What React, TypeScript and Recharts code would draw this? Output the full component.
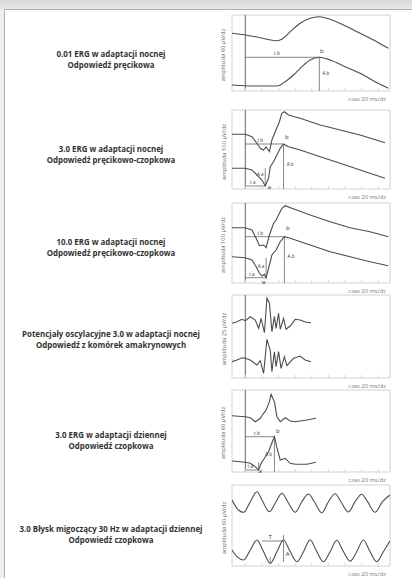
import { LineChart, Line, XAxis, YAxis, ReferenceArea, ReferenceLine, ReferenceDot } from 'recharts';

// time ticks (ms) and amplitude ticks shared by every panel
const timeTicks = [0, 20, 40, 60, 80, 100, 120, 140, 160];
const ampTicks = [12, 24, 36, 48, 60, 72];

// 0.01 ERG, dark adapted
const rodUpperT = [-16, 0, 18, 38, 44, 54, 66, 78, 88, 98, 118, 138, 158, 172];
const rodUpperV = [57.7, 56, 53.3, 50.3, 51.7, 59.3, 67.7, 72.7, 74.3, 72.7, 66, 57.7, 49.3, 42.7];
const rodLowerT = [-16, 0, 18, 38, 48, 58, 68, 78, 89, 102, 120, 138, 156, 172];
const rodLowerV = [6, 5.3, 5, 5, 9.3, 16, 24.3, 31, 33.7, 31, 24.3, 17.7, 9.3, 2.7];

// 3.0 ERG, dark adapted
const mixedUpperT = [-16, 0, 8, 14, 18, 22, 25, 29, 32, 36, 41, 44, 47, 52, 58, 66, 90, 114, 138, 168];
const mixedUpperV = [54.7, 54.7, 52.3, 45.7, 40.7, 39, 42, 37.3, 49, 57.3, 67.3, 75.7, 77.3, 74, 72.5, 70.7, 64, 59, 54, 46.3];
const mixedLowerT = [-16, 0, 8, 14, 20, 24, 28, 30, 34, 38, 42, 46, 52, 66, 90, 114, 138, 168];
const mixedLowerV = [20.7, 20.7, 19, 14, 9, 3, 11, 22.3, 27.3, 34, 40.7, 45, 42.3, 39, 32.3, 25.7, 19, 10.7];

// 10.0 ERG, dark adapted
const strongUpperT = [-16, 0, 8, 13, 17, 22, 25, 29, 34, 37, 41, 44, 48, 56, 78, 102, 126, 150, 172];
const strongUpperV = [55.3, 55.3, 53, 44.7, 37.3, 38, 35.3, 48, 59.7, 63, 69.7, 74.7, 77.3, 74.7, 68, 61.3, 55.3, 51.3, 46.3];
const strongLowerT = [-16, 0, 8, 13, 17, 20, 23, 25, 29, 32, 37, 42, 47, 54, 78, 102, 126, 150, 172];
const strongLowerV = [26.3, 25.3, 23, 16.3, 9.7, 7, 8.7, 5.3, 18, 28, 33, 41.3, 46.3, 44.7, 38, 31.3, 26.3, 21.3, 17.3];

// oscillatory potentials
const oscUpperT = [-16, -10, -4, 0, 6, 12, 16, 19, 23, 26, 29, 32, 35, 37, 40, 42, 46, 49, 54, 60, 66, 72, 79];
const oscUpperV = [54.7, 56.3, 58.7, 57.3, 61.3, 58, 49.7, 59.7, 45.3, 79.7, 75, 46.3, 61.3, 49.7, 64.7, 48.7, 59.7, 48.7, 52, 58.7, 58, 56, 55.3];
const oscLowerT = [-16, -10, -4, 0, 6, 11, 14, 18, 22, 26, 30, 32, 35, 37, 40, 43, 47, 50, 58, 66, 72, 79];
const oscLowerV = [16.3, 18, 20.3, 19.7, 18, 14.7, 13, 17.3, 4.7, 38.7, 28, 6.3, 26.3, 11.3, 26.3, 9.7, 21.3, 12.3, 19.7, 22, 18, 16.3];

// 3.0 ERG, light adapted
const coneUpperT = [-16, 0, 6, 12, 18, 22, 25, 29, 31, 35, 38, 42, 48, 54, 60, 66, 74, 85];
const coneUpperV = [56.3, 55.3, 54.3, 50.3, 53.7, 58.7, 62, 70.3, 77.7, 70.3, 55.3, 50.3, 54.3, 51, 50.3, 51, 52, 53.7];
const coneLowerT = [-16, 0, 6, 12, 16, 19, 23, 28, 31, 35, 38, 42, 48, 54, 60, 66, 74, 85];
const coneLowerV = [11, 9.7, 8.7, 5.3, 2, 8.7, 13.7, 20.3, 27, 35.3, 24.3, 12, 13.7, 8.7, 7.7, 7.7, 7.7, 9.7];

// 30 Hz flicker
const flickerUpperT = [-16, -10, -2, 6, 14, 20, 29, 37, 44, 51, 60, 68, 76, 83, 92, 100, 108, 115, 124, 132, 140, 147, 156, 165, 174];
const flickerUpperV = [66, 57.7, 53.7, 64.3, 74.3, 66, 54.3, 64.3, 72.7, 64.3, 53.7, 64.3, 72, 64.3, 53.2, 64.3, 72.3, 64.3, 54, 64.3, 71.8, 64.3, 53.7, 64.3, 71];
const flickerLowerT = [-16, -10, -2, 6, 14, 21, 30, 38, 46, 53, 62, 70, 78, 85, 94, 102, 110, 117, 126, 134, 142, 149, 158, 166, 174];
const flickerLowerV = [16, 9.3, 6, 16, 26, 16, 2.7, 14.3, 26, 16, 4.3, 14.3, 26.3, 16, 4.3, 14.3, 25.7, 16, 4.8, 14.3, 26, 16, 4.3, 14.3, 25];

// measurement marks: [t1, v1, t2, v2] and labels: [text, t, v]
const rodLines = [[0, 33.7, 89, 33.7], [89, 33.7, 89, 0]];
const rodNotes: [string, number, number][] = [['t b', 38, 38], ['b', 92, 40], ['A b', 97, 18]];
const mixedLines = [[0, 45, 46, 45], [46, 45, 46, 0], [0, 3, 24, 3], [24, 3, 24, 20.7]];
const mixedNotes: [string, number, number][] = [['t b', 18, 49], ['b', 50, 52], ['A b', 54, 25], ['t a', 9, 7.5], ['A a', 18, 15], ['a', 29, 2]];
const strongLines = [[0, 46.3, 47, 46.3], [47, 46.3, 47, 0], [0, 5.3, 25, 5.3], [25, 5.3, 25, 25.3]];
const strongNotes: [string, number, number][] = [['t b', 18, 50], ['b', 51, 55], ['A b', 55, 27], ['t a', 8, 9], ['A a', 19, 17], ['a', 22, 1.5]];
const coneLines = [[0, 35.3, 35, 35.3], [35, 35.3, 35, 0], [0, 2, 16, 2], [16, 2, 16, 9.7]];
const coneNotes: [string, number, number][] = [['t b', 14, 39.5], ['b', 39, 41], ['A b', 28, 18], ['t a', 6, 6], ['a', 18, 0.8]];
const flickerLines = [[20, 25, 46, 25], [46, 4, 46, 31], [30, 2.7, 30, 9]];
const flickerNotes: [string, number, number][] = [['T', 30, 29.5], ['A', 51, 12]];

const toPoints = (t: number[], v: number[]) => t.map((time, i) => ({ t: time, v: v[i] }));

interface PanelProps {
    top: number;
    height: number;
    yLabel: string;
    upper: { t: number; v: number }[];
    lower: { t: number; v: number }[];
    curve: 'linear' | 'monotone';
    stimulus: boolean;
    lines: number[][];
    notes: [string, number, number][];
}

// small annotation text centred on the reference point
const noteLabel = (text: string) => (props: any) => {
    const vb = props.viewBox || {};
    return (
        <text x={vb.x + (vb.width || 0) / 2} y={vb.y + (vb.height || 0) / 2} textAnchor="middle" dominantBaseline="central"
            fontSize={text.length === 1 ? 6 : 4.6} fill="#333">
            {text}
        </text>
    );
};

function ErgPanel({ top, height, yLabel, upper, lower, curve, stimulus, lines, notes }: PanelProps) {
    return (
        <div style={{ position: 'absolute', left: 212, top: top - 2 }}>
            <div style={{
                position: 'absolute', left: 11 - height / 2, top: 4 + height / 2 - 4, width: height, height: 8,
                lineHeight: '8px', transform: 'rotate(-90deg)', textAlign: 'center', fontSize: 5.8, color: '#666', whiteSpace: 'nowrap'
            }}>
                {yLabel}
            </div>
            <LineChart width={182} height={height + 16} margin={{ top: 2, right: 4, bottom: 0, left: 20 }}>
                <XAxis
                    type="number"
                    dataKey="t"
                    domain={[-16, 174]}
                    ticks={timeTicks}
                    allowDataOverflow
                    height={14}
                    axisLine={false}
                    tickSize={-3}
                    tickLine={{ stroke: '#d6d6d6' }}
                    tickFormatter={() => ''}
                    label={{ value: 'czas 20 ms/dz', position: 'insideBottomRight', offset: 4, fontSize: 5.8, fill: '#777' }}
                />
                <YAxis
                    type="number"
                    dataKey="v"
                    domain={[0, height]}
                    ticks={ampTicks}
                    allowDataOverflow
                    width={0}
                    axisLine={false}
                    tickSize={-3}
                    tickLine={{ stroke: '#d6d6d6' }}
                    tickFormatter={() => ''}
                />
                <ReferenceArea x1={-16} x2={174} y1={0} y2={height} fill="none" stroke="#d2d2d2" ifOverflow="visible" />
                {stimulus && <ReferenceLine x={0} stroke="#555" strokeWidth={0.9} />}
                {lines.map((s, i) => (
                    <ReferenceLine key={'s' + i} segment={[{ x: s[0], y: s[1] }, { x: s[2], y: s[3] }]} stroke="#555" strokeWidth={0.7} ifOverflow="visible" />
                ))}
                {notes.map((n, i) => (
                    <ReferenceDot key={'n' + i} x={n[1]} y={n[2]} r={0} fill="none" stroke="none" ifOverflow="visible" label={noteLabel(n[0])} />
                ))}
                <Line data={upper} dataKey="v" type={curve} stroke="#4d4d4d" strokeWidth={1.1} dot={false} isAnimationActive={false} />
                <Line data={lower} dataKey="v" type={curve} stroke="#4d4d4d" strokeWidth={1.1} dot={false} isAnimationActive={false} />
            </LineChart>
        </div>
    );
}

function Title({ y, lines }: { y: number; lines: string[] }) {
    return (
        <div style={{
            position: 'absolute', left: 6, top: y - 5.5, width: 210, textAlign: 'center',
            fontSize: 7.9, fontWeight: 700, lineHeight: '11px', color: '#333'
        }}>
            {lines.map((l) => <div key={l}>{l}</div>)}
        </div>
    );
}

export default function App() {
    return (
        <div style={{ position: 'absolute', left: 0, top: 0, width: 412, height: 578, overflow: 'hidden', background: '#efefef', fontFamily: '"Open Sans", sans-serif' }}>
            <div style={{ position: 'absolute', left: 0, top: 0, width: 412, height: 9, background: 'linear-gradient(#d9d9d9, #e6e6e6)' }} />
            <div style={{ position: 'absolute', left: 4, top: 9, width: 408, height: 569, background: '#fff', borderTop: '1px solid #b0b0b0', borderLeft: '1px solid #b0b0b0' }} />

            <Title y={54} lines={['0.01 ERG w adaptacji nocnej', 'Odpowiedź pręcikowa']} />
            <Title y={149} lines={['3.0 ERG w adaptacji nocnej', 'Odpowiedź pręcikowo-czopkowa']} />
            <Title y={242} lines={['10.0 ERG w adaptacji nocnej', 'Odpowiedź pręcikowo-czopkowa']} />
            <Title y={334} lines={['Potencjały oscylacyjne 3.0 w adaptacji nocnej', 'Odpowiedź z komórek amakrynowych']} />
            <Title y={435} lines={['3.0 ERG w adaptacji dziennej', 'Odpowiedź czopkowa']} />
            <Title y={529} lines={['3.0 Błysk migoczący 30 Hz w adaptacji dziennej', 'Odpowiedź czopkowa']} />

            <ErgPanel top={15} height={76} yLabel="amplituda 60 µV/dz" curve="monotone" stimulus
                upper={toPoints(rodUpperT, rodUpperV)} lower={toPoints(rodLowerT, rodLowerV)} lines={rodLines} notes={rodNotes} />
            <ErgPanel top={110} height={79} yLabel="amplituda 100 µV/dz" curve="linear" stimulus
                upper={toPoints(mixedUpperT, mixedUpperV)} lower={toPoints(mixedLowerT, mixedLowerV)} lines={mixedLines} notes={mixedNotes} />
            <ErgPanel top={203} height={80} yLabel="amplituda 100 µV/dz" curve="linear" stimulus
                upper={toPoints(strongUpperT, strongUpperV)} lower={toPoints(strongLowerT, strongLowerV)} lines={strongLines} notes={strongNotes} />
            <ErgPanel top={295} height={83} yLabel="amplituda 25 µV/dz" curve="linear" stimulus
                upper={toPoints(oscUpperT, oscUpperV)} lower={toPoints(oscLowerT, oscLowerV)} lines={[]} notes={[]} />
            <ErgPanel top={390} height={82} yLabel="amplituda 60 µV/dz" curve="linear" stimulus
                upper={toPoints(coneUpperT, coneUpperV)} lower={toPoints(coneLowerT, coneLowerV)} lines={coneLines} notes={coneNotes} />
            <ErgPanel top={485} height={81} yLabel="amplituda 60 µV/dz" curve="monotone" stimulus={false}
                upper={toPoints(flickerUpperT, flickerUpperV)} lower={toPoints(flickerLowerT, flickerLowerV)} lines={flickerLines} notes={flickerNotes} />
        </div>
    );
}
